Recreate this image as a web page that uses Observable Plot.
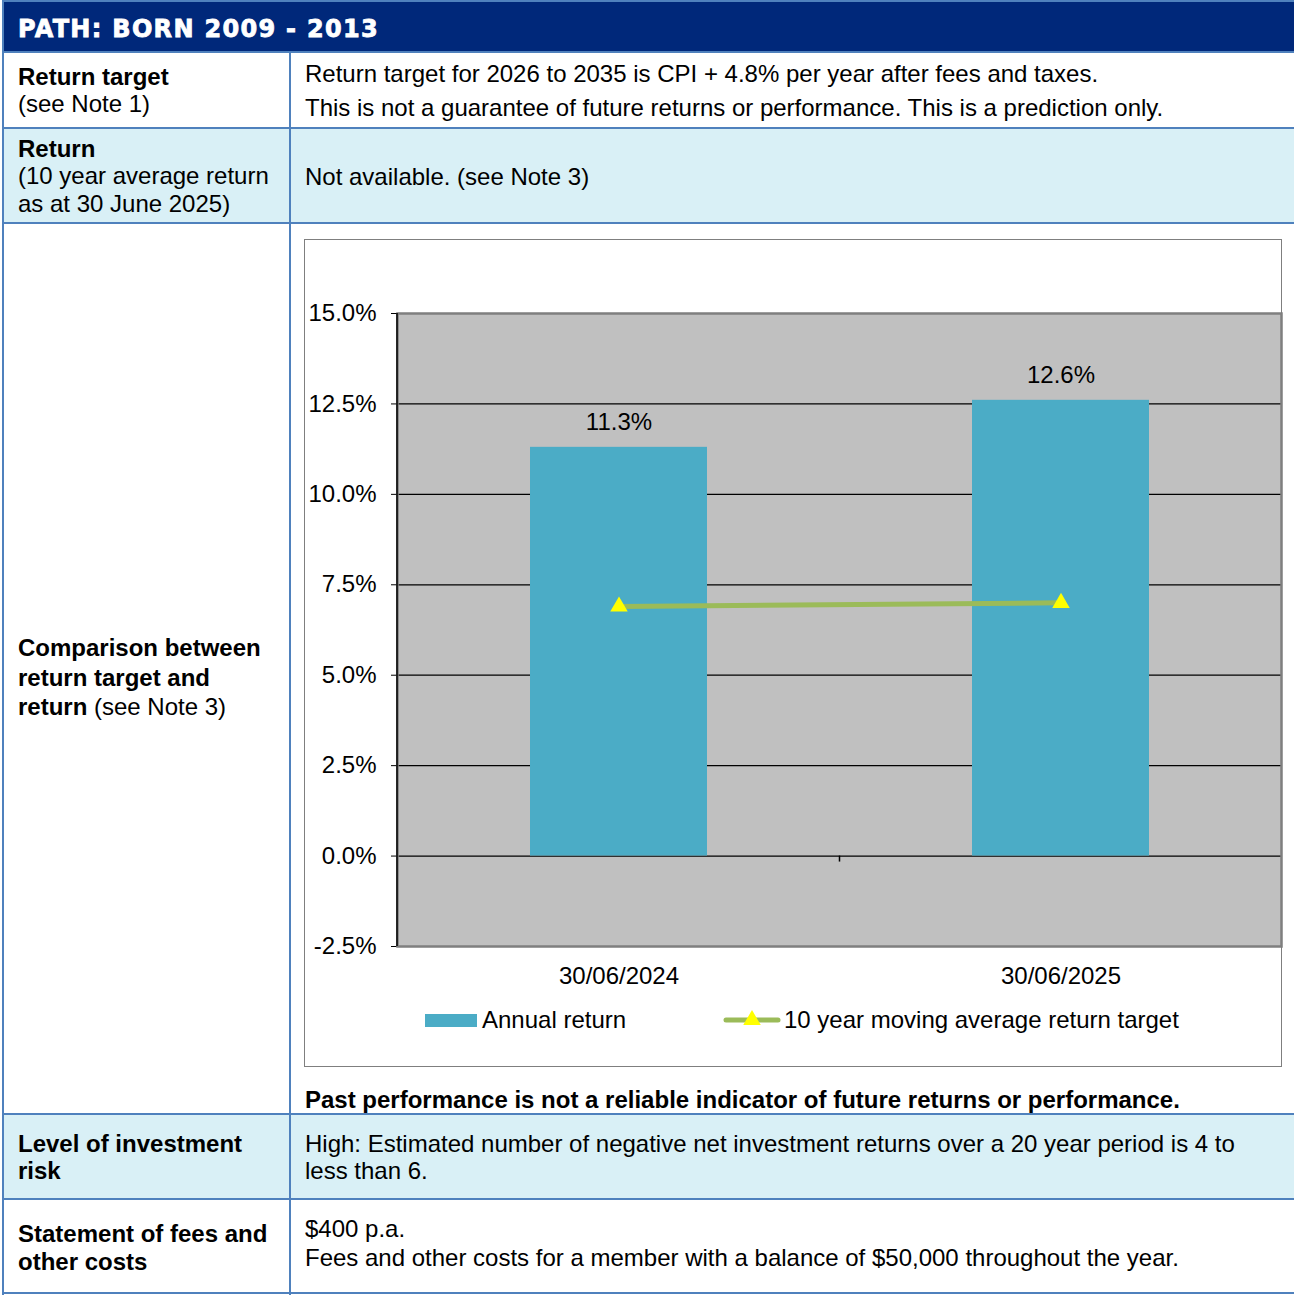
<!DOCTYPE html>
<html>
<head>
<meta charset="utf-8">
<script src="https://cdn.jsdelivr.net/npm/d3@7"></script>
<script src="https://cdn.jsdelivr.net/npm/@observablehq/plot@0.6"></script>
<style>
  html, body { margin: 0; padding: 0; background: #fff; }
  #page { position: relative; width: 1294px; height: 1295px; overflow: hidden; font-family: "Liberation Sans", Arial, sans-serif; color: #000; }
  .abs { position: absolute; }
  .t { position: absolute; font-size: 24px; line-height: 28px; white-space: nowrap; }
  .b { font-weight: bold; }
  .hline { position: absolute; height: 2px; background: #4F81BD; }
  .vline { position: absolute; width: 2px; background: #4F81BD; }
</style>
</head>
<body>
<div id="page">
  <!-- row backgrounds -->
  <div class="abs" style="left:3px;top:1px;width:1291px;height:51px;background:#00287A;"></div>
  <div class="abs" style="left:3px;top:129px;width:1291px;height:94px;background:#D9F0F6;"></div>
  <div class="abs" style="left:3px;top:1114px;width:1291px;height:85px;background:#D9F0F6;"></div>
  <!-- borders -->
  <div class="vline" style="left:2px;top:0px;height:1295px;"></div>
  <div class="hline" style="left:2px;top:0px;width:1292px;"></div>
  <div class="vline" style="left:289px;top:52px;height:1243px;"></div>
  <div class="hline" style="left:2px;top:51px;width:1292px;"></div>
  <div class="hline" style="left:2px;top:127px;width:1292px;"></div>
  <div class="hline" style="left:2px;top:222px;width:1292px;"></div>
  <div class="hline" style="left:2px;top:1113px;width:1292px;"></div>
  <div class="hline" style="left:2px;top:1198px;width:1292px;"></div>
  <div class="hline" style="left:2px;top:1292px;width:1292px;"></div>

  <div id="title" class="abs" style="left:18px;top:13px;font-family:'DejaVu Sans',sans-serif;font-weight:bold;font-size:24px;letter-spacing:1.3px;line-height:32px;color:#fff;white-space:nowrap;-webkit-text-stroke:0.8px #fff;"></div>

  <div id="texts"></div>

  <!-- chart box -->
  <div class="abs" style="left:304px;top:239px;width:976px;height:826px;border:1px solid #7F7F7F;background:#fff;"></div>
  <div id="chart" class="abs" style="left:305px;top:240px;width:976px;height:766px;"></div>
  <div id="legend" class="abs" style="left:305px;top:1000px;width:976px;height:40px;"></div>
</div>

<script>
// ---- Data ----
const categories = ["30/06/2024", "30/06/2025"];
const annualReturn = [11.3, 12.6];
const movingAvgTarget = [6.9, 7.0];
const yTicks = [-2.5, 0, 2.5, 5, 7.5, 10, 12.5, 15];
const seriesNames = ["Annual return", "10 year moving average return target"];

const title = "PATH: BORN 2009 - 2013";
const tableLines = [
  // [x, centerY, html]
  [18, 77, "<span class='b'>Return target</span>"],
  [18, 104, "(see Note 1)"],
  [305, 74, "Return target for 2026 to 2035 is CPI + 4.8% per year after fees and taxes."],
  [305, 108, "This is not a guarantee of future returns or performance. This is a prediction only."],
  [18, 149, "<span class='b'>Return</span>"],
  [18, 176, "(10 year average return"],
  [18, 204, "as at 30 June 2025)"],
  [305, 177, "Not available. (see Note 3)"],
  [18, 648, "<span class='b'>Comparison between</span>"],
  [18, 678, "<span class='b'>return target and</span>"],
  [18, 707, "<span class='b'>return</span> (see Note 3)"],
  [305, 1100, "<span class='b'>Past performance is not a reliable indicator of future returns or performance.</span>"],
  [18, 1144, "<span class='b'>Level of investment</span>"],
  [18, 1171, "<span class='b'>risk</span>"],
  [305, 1144, "High: Estimated number of negative net investment returns over a 20 year period is 4 to"],
  [305, 1171, "less than 6."],
  [18, 1234, "<span class='b'>Statement of fees and</span>"],
  [18, 1262, "<span class='b'>other costs</span>"],
  [305, 1229, "$400 p.a."],
  [305, 1258, "Fees and other costs for a member with a balance of $50,000 throughout the year."]
];

document.getElementById("title").textContent = title;
const textsEl = document.getElementById("texts");
for (const [x, cy, html] of tableLines) {
  const d = document.createElement("div");
  d.className = "t";
  d.style.left = x + "px";
  d.style.top = (cy - 14) + "px";
  d.innerHTML = html;
  textsEl.appendChild(d);
}

const data = categories.map((c, i) => ({date: c, ret: annualReturn[i], target: movingAvgTarget[i]}));

const barColor = "#4BACC6";
const lineColor = "#9BBB59";
const markerColor = "#FFFF00";

const chart = Plot.plot({
  width: 976,
  height: 766,
  marginLeft: 92,
  marginRight: 0,
  marginTop: 73,
  marginBottom: 60,
  style: {fontFamily: "'Liberation Sans', Arial, sans-serif", fontSize: "24px", color: "#000", background: "transparent", overflow: "visible"},
  x: {type: "band", domain: categories, paddingInner: 0.6, paddingOuter: 0.3, label: null, tickSize: 0, tickPadding: 20},
  y: {domain: [-2.5, 15], ticks: yTicks, tickSize: 6, tickPadding: 15, tickFormat: d => d.toFixed(1) + "%", label: null},
  marks: [
    Plot.frame({fill: "#C0C0C0", stroke: null}),
    Plot.ruleY(yTicks.filter(v => v > -2.5 && v < 15), {stroke: "#000", strokeWidth: 1.2}),
    Plot.barY(data, {x: "date", y: "ret", fill: barColor}),
    Plot.frame({stroke: "#7F7F7F", strokeWidth: 2.5}),
    (index, scales, values, dims) => {
      const xs = scales.x, ys = scales.y;
      const bw = typeof xs.bandwidth === "function" ? xs.bandwidth() : 0;
      const bx = (xs(categories[0]) + xs(categories[1])) / 2 + bw / 2;
      const g = d3.create("svg:g");
      g.append("line").attr("x1", dims.marginLeft).attr("x2", dims.marginLeft)
        .attr("y1", ys(15)).attr("y2", ys(-2.5)).attr("stroke", "#000").attr("stroke-width", 1.5);
      g.append("line").attr("x1", bx).attr("x2", bx)
        .attr("y1", ys(0)).attr("y2", ys(0) + 6).attr("stroke", "#000").attr("stroke-width", 1.5);
      return g.node();
    },
    Plot.line(data, {x: "date", y: "target", stroke: lineColor, strokeWidth: 5}),
    Plot.dot(data, {x: "date", y: "target", symbol: "triangle", fill: markerColor, r: 6.5, stroke: null}),
    Plot.text(data, {x: "date", y: "ret", text: d => d.ret.toFixed(1) + "%", dy: -25, fontSize: 24, fill: "#000"})
  ]
});
document.getElementById("chart").appendChild(chart);

// ---- Legend ----
const legend = d3.select("#legend").append("svg").attr("width", 976).attr("height", 40)
  .style("font-family", "'Liberation Sans', Arial, sans-serif").style("font-size", "24px");
legend.append("rect").attr("x", 120).attr("y", 14).attr("width", 52).attr("height", 13).attr("fill", barColor);
legend.append("text").attr("x", 177).attr("y", 20).attr("dy", "0.35em").text(seriesNames[0]);
legend.append("line").attr("x1", 421).attr("x2", 473).attr("y1", 20).attr("y2", 20)
  .attr("stroke", lineColor).attr("stroke-width", 5).attr("stroke-linecap", "round");
legend.append("path").attr("transform", "translate(447,20)")
  .attr("d", d3.symbol(d3.symbolTriangle, 6.5 * 6.5 * Math.PI)()).attr("fill", markerColor);
legend.append("text").attr("x", 479).attr("y", 20).attr("dy", "0.35em").text(seriesNames[1]);
</script>
</body>
</html>
